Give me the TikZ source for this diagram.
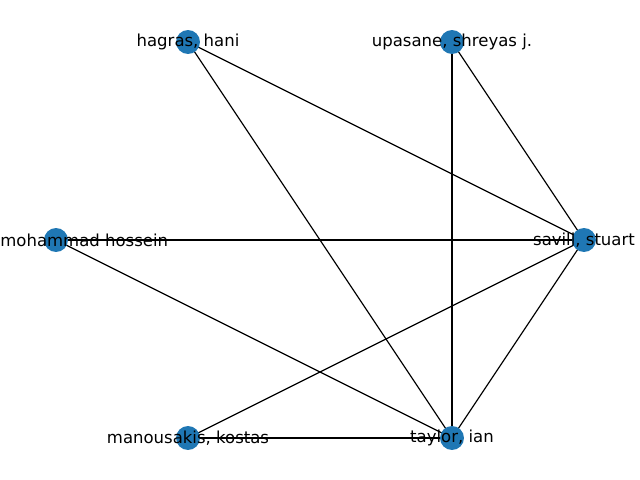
\documentclass[tikz,border=0pt]{standalone}
\usepackage{fontspec}
\setmainfont{DejaVu Sans}
\usepackage{tikz}
\usetikzlibrary{arrows}
\definecolor{nodeblue}{HTML}{1F77B4}

\begin{document}
\begin{tikzpicture}[x=0.02cm,y=-0.02cm]

\tikzset{vertex/.style = {shape=circle,fill=nodeblue,minimum size=0.48cm,inner sep=0pt}}
\tikzset{edge/.style = {draw=black,line width=0.7pt}}
\tikzset{author/.style = {font=\fontsize{9.4}{11}\selectfont,inner sep=0pt}}

\useasboundingbox (0,0) rectangle (640,480);

% vertices
\coordinate (h) at (188,42);
\coordinate (u) at (452,42);
\coordinate (s) at (584,240);
\coordinate (m) at (56,240);
\coordinate (k) at (188,438);
\coordinate (t) at (452,438);

% edges
\draw[edge] (h) -- (t);
\draw[edge] (h) -- (s);
\draw[edge] (u) -- (s);
\draw[edge] (u) -- (t);
\draw[edge] (m) -- (s);
\draw[edge] (m) -- (t);
\draw[edge] (k) -- (s);
\draw[edge] (k) -- (t);
\draw[edge] (s) -- (t);

\node[vertex] (1) at (h) {};
\node[vertex] (2) at (u) {};
\node[vertex] (3) at (s) {};
\node[vertex] (4) at (m) {};
\node[vertex] (5) at (k) {};
\node[vertex] (6) at (t) {};

% labels
\node[author] at (1) {hagras, hani};
\node[author] at (2) {upasane, shreyas j.};
\node[author] at (3) {savill, stuart};
\node[author,anchor=west] at (0,240) {mohammad hossein};
\node[author] at (5) {manousakis, kostas};
\node[author] at (6) {taylor, ian};

\end{tikzpicture}
\end{document}
